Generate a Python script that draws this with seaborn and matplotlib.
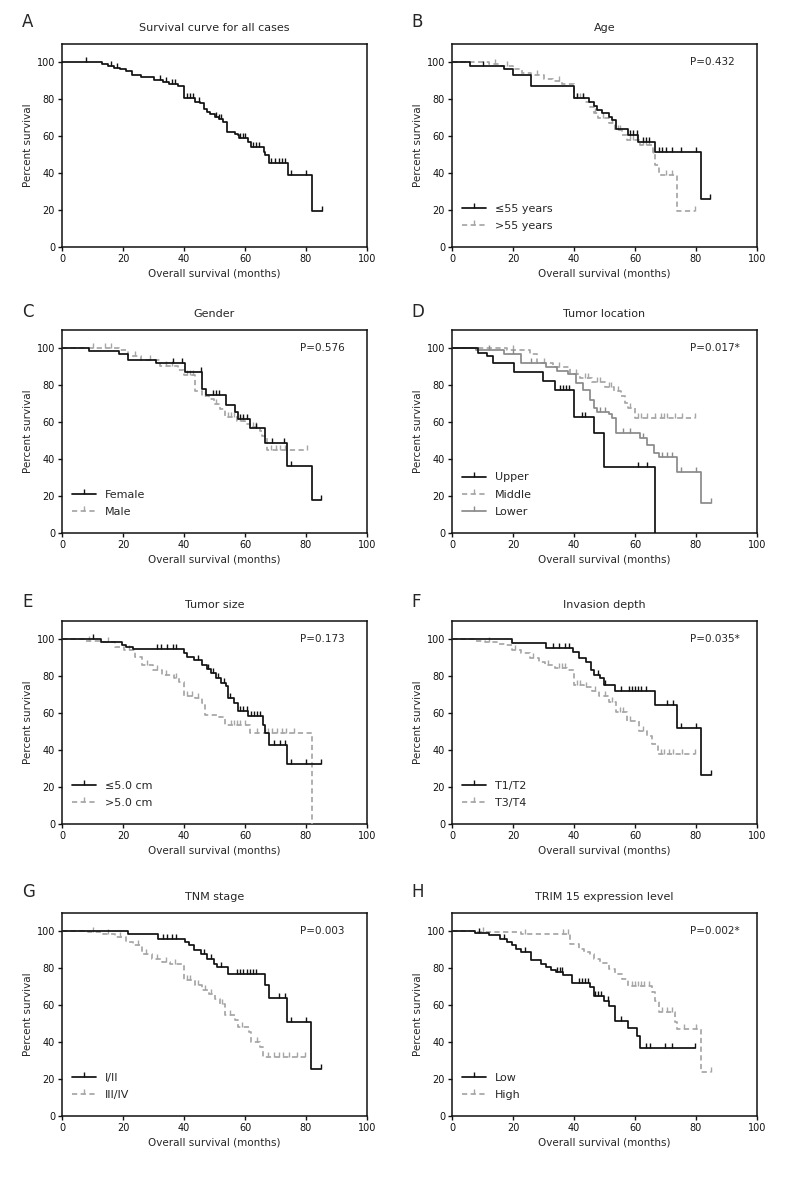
#!/usr/bin/env python3
# Kaplan-Meier panels A-H
import numpy as np
import matplotlib
matplotlib.use("Agg")
import matplotlib.pyplot as plt
from matplotlib.lines import Line2D
from matplotlib.path import Path
import seaborn as sns

# ============================================================================
# DATA: step times (months), survival (%) after each step, censor times, end
# ============================================================================
all_t = [13, 15, 17, 19, 21, 23, 26, 30, 33, 35, 38, 40, 43.7, 45.4, 46.4, 47.5, 48.6, 50,
         51.4, 52.8, 54.1, 56.8, 57.7, 58.1, 61, 62, 66.1, 66.7, 68, 74.1, 82]
all_s = [99, 98, 97, 96, 95, 93, 92, 90, 89, 88, 87, 80.4, 78.6, 77.7, 74.6, 72.8, 71.8, 70.5,
         69.2, 67.4, 62, 61.2, 60.3, 58.8, 56.7, 54.3, 51.6, 49.5, 45.3, 39, 19.2]
all_c = [8, 16, 18, 32, 34, 36, 37, 41, 42, 43, 44.8, 50.5, 51.5, 52.2, 58.5, 59.3, 60, 62.5,
         63.5, 64.5, 68.6, 69.8, 71, 72, 73.2, 75.2, 80, 85.2]
all_end = 85.2

young_t = [6, 17, 20, 26, 39.9, 45, 46.4, 47.5, 49.2, 51.4, 52.5, 53.8, 57.7, 61, 66.7, 81.7]
young_s = [98, 96, 93, 87, 80.4, 78.6, 76.4, 74, 72.3, 70.5, 68.7, 63.8, 60.3, 56.7, 51.6, 26.1]
young_c = [10, 41, 43, 58.5, 59.5, 60.5, 62.5, 63.5, 64.5, 68, 69, 70, 72, 75, 80, 84.7]
young_end = 84.7

old_t = [12, 16, 20, 23, 26, 30, 33, 36, 39.9, 43.7, 45.4, 46.4, 48, 51.4, 53.5, 55.7, 57.4,
         61.7, 65.8, 66.7, 67.8, 73.8]
old_s = [99, 98, 96, 94, 93, 91, 89.5, 88, 80.4, 78.6, 75.9, 72.3, 69.6, 66.9, 63.3, 60.6, 57.9,
         54.9, 50.7, 44.4, 39, 19.2]
old_c = [14, 18, 28, 35, 41, 42, 43, 47, 49.5, 52.5, 54.5, 55, 58.5, 59.5, 60.5, 62.5, 63.5,
         64.5, 66, 70, 72, 79.8]
old_end = 79.8

female_t = [8.9, 18.8, 21.8, 30.7, 40.3, 46, 47.2, 53.8, 56.8, 57.7, 61.7, 66.7, 73.8, 82]
female_s = [98.6, 96.5, 93.6, 91.7, 87, 77.8, 74.4, 69.2, 65.6, 61.4, 56.6, 48.5, 36.4, 17.8]
female_c = [36.5, 39.5, 45.5, 49.5, 50.5, 51.5, 58.5, 59.5, 60.5, 63.5, 68.8, 72.8, 75, 84.9]
female_end = 84.9

male_t = [18.8, 21.8, 26, 32, 38, 39.9, 43.7, 45.9, 48.1, 49.7, 51.9, 53.6, 57.4, 60.1, 61.7,
          65, 65.6, 67.2]
male_s = [98.8, 95.7, 93.5, 90.4, 88, 85.5, 76.9, 74.2, 72.4, 69.7, 67, 62.5, 60.7, 58.9, 57.1,
          55.3, 52.6, 44.6]
male_c = [10, 14, 16, 24, 29, 34, 36, 41, 42, 43, 47, 50.5, 54.5, 55.5, 56.5, 58.5, 59.5, 62.5,
          63.5, 68.5, 70, 71.5, 73, 80.3]
male_end = 80.3

upper_t = [8.4, 11.4, 13.6, 20.3, 29.8, 33.9, 39.9, 46.4, 49.7, 66.7]
upper_s = [97.5, 95.5, 92, 87, 82, 77.3, 62.9, 53.9, 35.9, 0]
upper_c = [35.5, 36.5, 37.5, 38.5, 42.5, 43.5, 61, 64]
upper_end = 66.7

middle_t = [18, 25.5, 28, 33, 38.8, 42, 46, 50, 53, 55.5, 56.8, 57.7, 60.1]
middle_s = [98.8, 96.5, 92, 89.6, 86, 83.6, 81.5, 79, 77, 74, 70.5, 67.4, 62]
middle_c = [20, 30, 35, 40.5, 43.5, 44.5, 47.5, 48.5, 51.5, 52, 54.5, 58.5, 61, 62, 64, 66.5,
            68.5, 69.5, 70.5, 73, 75.5, 79.8]
middle_end = 79.8

lower_t = [8, 17, 22.5, 30.7, 34.4, 38, 40.5, 43, 45.4, 46.4, 47.5, 51.4, 52.5, 53.8, 61.7, 64,
           66.1, 67.8, 73.8, 81.7]
lower_s = [99, 97, 92, 89.6, 87.8, 86, 81, 77.3, 71.9, 67.4, 65.2, 64.1, 62, 53.9, 51.2, 47.6,
           43.1, 41.3, 33.2, 16]
lower_c = [12, 20, 26, 48.5, 50, 56, 58.5, 62.5, 69, 70.5, 72, 75, 80, 84.9]
lower_end = 84.9

small_t = [12.9, 19.6, 21, 23.3, 40, 41, 43.3, 45.9, 47.5, 49, 50.5, 52, 53.8, 54.4, 56.3, 57.7,
           61, 65.8, 66.7, 67.8, 73.8]
small_s = [98.6, 96.8, 95.9, 94.4, 92.3, 90.5, 88.6, 86, 84, 81.6, 79, 76.2, 74.4, 68.1, 65.4,
           60.9, 58.2, 53.7, 49.2, 42.9, 32.4]
small_c = [10, 31, 32.5, 34.5, 36.5, 37.5, 44.5, 48, 49.5, 51, 53, 55, 58.5, 59.5, 60.5, 62, 63,
           64, 65, 69.5, 71.5, 73, 75.2, 80, 84.9]
small_end = 84.9

large_t = [7.7, 12.9, 17.3, 20.3, 24, 26.2, 29.9, 32.9, 36.6, 38.5, 39.9, 43.7, 45.9, 47, 51.4,
           53.6, 61.7, 82]
large_s = [99.1, 98.6, 95.9, 94.1, 90.5, 86, 83.4, 80.7, 78.9, 77, 69, 68.1, 65.4, 59.1, 57.7,
           53.7, 49.2, 0]
large_c = [9, 15, 22, 28, 31, 34, 37.5, 41, 42.5, 44.5, 55.5, 56.5, 57.5, 58.5, 60, 64, 66.5,
           67.5, 69, 70.5, 72, 73.5, 76]
large_end = 82

t12_t = [19.6, 30.7, 39.6, 41.8, 44, 45.5, 46.4, 48.6, 49.7, 53.6, 66.7, 73.8, 81.7]
t12_s = [97.7, 95.3, 93.2, 89.5, 87.7, 83.5, 80.7, 78.9, 75.3, 71.7, 64.5, 52, 26.3]
t12_c = [33, 35, 37, 38.5, 48, 50, 55.5, 58, 59, 60, 61, 62, 63.5, 70.5, 72.5, 75, 80, 84.9]
t12_end = 84.9

t34_t = [7.7, 10.7, 15, 17.3, 19.6, 22.5, 25.5, 28.4, 30.6, 33.9, 37.7, 39.9, 43.2, 45.9, 48.1,
         51.4, 53.8, 57.4, 61.2, 63.9, 65.6, 67.5]
t34_s = [99.1, 98.2, 97.5, 96.8, 94.1, 92.3, 89.5, 87.7, 86, 84.1, 83.2, 75.3, 73.9, 72.1, 69.4,
         65.8, 60.4, 55.9, 50.5, 47.7, 43.2, 37.8]
t34_c = [12, 20.5, 26.5, 31.5, 35, 36, 37, 41, 42, 44, 47, 50, 52.5, 55, 56, 58.5, 62.5, 68.5,
         69.5, 71, 72.5, 75.5, 79.8]
t34_end = 79.8

early_t = [21.8, 31.4, 40.3, 41.8, 43.3, 45.5, 47.7, 49.9, 50.7, 54.4, 66.7, 67.8, 73.8, 81.7]
early_s = [98.2, 95.9, 94.1, 92.3, 89.6, 87.8, 85.1, 82.4, 80.6, 77, 70.7, 63.8, 50.9, 25.4]
early_c = [33, 34.5, 36, 37.5, 46.5, 48.8, 52, 57.5, 58.5, 59.5, 60.5, 61.5, 62.5, 63.5, 71, 73,
           75, 80, 84.9]
early_end = 84.9

late_t = [8.4, 13.6, 17.3, 21, 23.3, 26.2, 29.5, 32.8, 35.5, 39.9, 43.7, 45.9, 48.1, 50.3, 51.9,
          53.6, 56.8, 57.7, 61.2, 62, 65, 65.8]
late_s = [99.5, 98.2, 96.8, 94.1, 92.3, 87.8, 84.7, 83.3, 82.4, 73.4, 70.7, 68, 66.2, 63.5, 60.8,
          54.5, 51.8, 48.2, 45.5, 40.1, 37.4, 32]
late_c = [10, 15, 19, 25, 27.5, 31, 34, 37, 41, 42, 44.5, 47, 49, 52.5, 55, 59, 64, 67.5, 69.5,
          71, 72.5, 74.5, 77, 79.8]
late_end = 79.8

low_t = [7.7, 12.1, 15.9, 18.1, 19.6, 21, 22.5, 26, 29.3, 30.7, 32.5, 34, 36.3, 39.5, 45.4, 46.4,
         49.7, 51.4, 53.6, 57.7, 60.7, 61.5]
low_s = [98.9, 97.7, 95.9, 94.1, 92.3, 90.5, 88.7, 84.5, 82.4, 80.6, 79, 77.7, 76.4, 71.8, 69.6,
         65.1, 62.4, 59.7, 51.6, 47.7, 43.5, 36.9]
low_c = [9, 17, 24, 34.5, 35.5, 36, 41.5, 42.5, 43.5, 44.5, 47, 48, 49, 51, 55.5, 63.5, 64.8,
         69.8, 72, 79.8]
low_end = 79.8

high_t = [8, 22.5, 38.8, 41.8, 43.3, 45.4, 46.4, 48.6, 51.4, 53.6, 55.7, 57.7, 65.6, 66.7, 67.8,
          73.2, 73.8, 81.7]
high_s = [99.5, 98.6, 93.2, 90.5, 88.7, 87.6, 84.9, 82.6, 79.5, 76.8, 74.1, 70.1, 66.9, 62.4,
          56.1, 50.7, 47.1, 23.7]
high_c = [10, 24, 36.5, 38, 59, 60, 61, 62, 63, 64.5, 69, 70.5, 72, 76, 80, 84.9]
high_end = 84.9

# ============================================================================
# THEME
# ============================================================================
sns.set_theme(style="ticks")
plt.rcParams['font.family'] = ['Liberation Sans Narrow', 'DejaVu Sans']
plt.rcParams['axes.linewidth'] = 1.1
plt.rcParams['xtick.major.width'] = 1.0
plt.rcParams['ytick.major.width'] = 1.0
plt.rcParams['xtick.major.size'] = 3
plt.rcParams['ytick.major.size'] = 3

styles = {
    'black': dict(color='#111111', ls='-', lw=1.25, z=4),
    'dash': dict(color='#a6a6a6', ls=(0, (3, 2)), lw=1.25, z=3),
    'gray': dict(color='#8a8a8a', ls='-', lw=1.25, z=3),
}
tick = Path([(0, 0), (0, 1)])

panels = [
    ('A', 'Survival curve for all cases', None,
     [(None, all_t, all_s, all_c, all_end, 'black')]),
    ('B', 'Age', 'P=0.432',
     [('\u226455 years', young_t, young_s, young_c, young_end, 'black'),
      ('>55 years', old_t, old_s, old_c, old_end, 'dash')]),
    ('C', 'Gender', 'P=0.576',
     [('Female', female_t, female_s, female_c, female_end, 'black'),
      ('Male', male_t, male_s, male_c, male_end, 'dash')]),
    ('D', 'Tumor location', 'P=0.017*',
     [('Upper', upper_t, upper_s, upper_c, upper_end, 'black'),
      ('Middle', middle_t, middle_s, middle_c, middle_end, 'dash'),
      ('Lower', lower_t, lower_s, lower_c, lower_end, 'gray')]),
    ('E', 'Tumor size', 'P=0.173',
     [('\u22645.0 cm', small_t, small_s, small_c, small_end, 'black'),
      ('>5.0 cm', large_t, large_s, large_c, large_end, 'dash')]),
    ('F', 'Invasion depth', 'P=0.035*',
     [('T1/T2', t12_t, t12_s, t12_c, t12_end, 'black'),
      ('T3/T4', t34_t, t34_s, t34_c, t34_end, 'dash')]),
    ('G', 'TNM stage', 'P=0.003',
     [('I/II', early_t, early_s, early_c, early_end, 'black'),
      ('III/IV', late_t, late_s, late_c, late_end, 'dash')]),
    ('H', 'TRIM 15 expression level', 'P=0.002*',
     [('Low', low_t, low_s, low_c, low_end, 'black'),
      ('High', high_t, high_s, high_c, high_end, 'dash')]),
]

# ============================================================================
# CREATE PLOT
# ============================================================================
W, H = 786, 1182
fig = plt.figure(figsize=(W / 100, H / 100), dpi=100)
col_left = [62, 452]
row_bottom = [247, 533, 824, 1116]
ax_w, ax_h = 305, 203.5

for i, (letter, title, pval, curves) in enumerate(panels):
    r, c = divmod(i, 2)
    ax = fig.add_axes([col_left[c] / W, 1 - row_bottom[r] / H, ax_w / W, ax_h / H])
    handles = []
    for label, t, s, cens, end, key in curves:
        st = styles[key]
        xs = [0] + list(t)
        ys = [100] + list(s)
        if end > xs[-1]:
            xs.append(end)
            ys.append(ys[-1])
        sns.lineplot(x=xs, y=ys, drawstyle='steps-post', sort=False, estimator=None,
                     color=st['color'], linestyle=st['ls'], linewidth=st['lw'],
                     legend=False, ax=ax, zorder=st['z'])
        # censor ticks sit on the step curve
        xa, ya = np.array(xs), np.array(ys)
        cy = ya[np.searchsorted(xa, cens, side='right') - 1]
        ax.plot(cens, cy, ls='none', marker=tick, markersize=6.5, mew=1.0,
                color=st['color'], zorder=st['z'])
        handles.append(Line2D([], [], color=st['color'], ls=st['ls'], lw=st['lw'],
                              marker=tick, markersize=6.5, mew=1.0, label=label))

    ax.set_xlim(0, 100)
    ax.set_ylim(0, 110)
    ax.set_xticks([0, 20, 40, 60, 80, 100])
    ax.set_yticks([0, 20, 40, 60, 80, 100])
    ax.tick_params(labelsize=7, pad=2, colors='#111111')
    for sp in ax.spines.values():
        sp.set_visible(True)
        sp.set_color('#111111')
    ax.set_xlabel('Overall survival (months)', fontsize=7.5, labelpad=3)
    ax.set_ylabel('Percent survival', fontsize=7.5, labelpad=3)
    ax.set_title(title, fontsize=8, pad=9)
    if pval:
        ax.text(78, 100, pval, fontsize=7.5, ha='left', va='center')
    if curves[0][0] is not None:
        ax.legend(handles=handles, loc='lower left', bbox_to_anchor=(0.0, 0.03),
                  frameon=False, fontsize=8, handlelength=2.2, numpoints=1,
                  labelspacing=0.65, handletextpad=0.8)
    fig.text((22 if c == 0 else 411) / W, 1 - (22 + 290 * r) / H, letter,
             fontsize=12, ha='left', va='center')

plt.savefig("out.png", dpi=100)
plt.close()
